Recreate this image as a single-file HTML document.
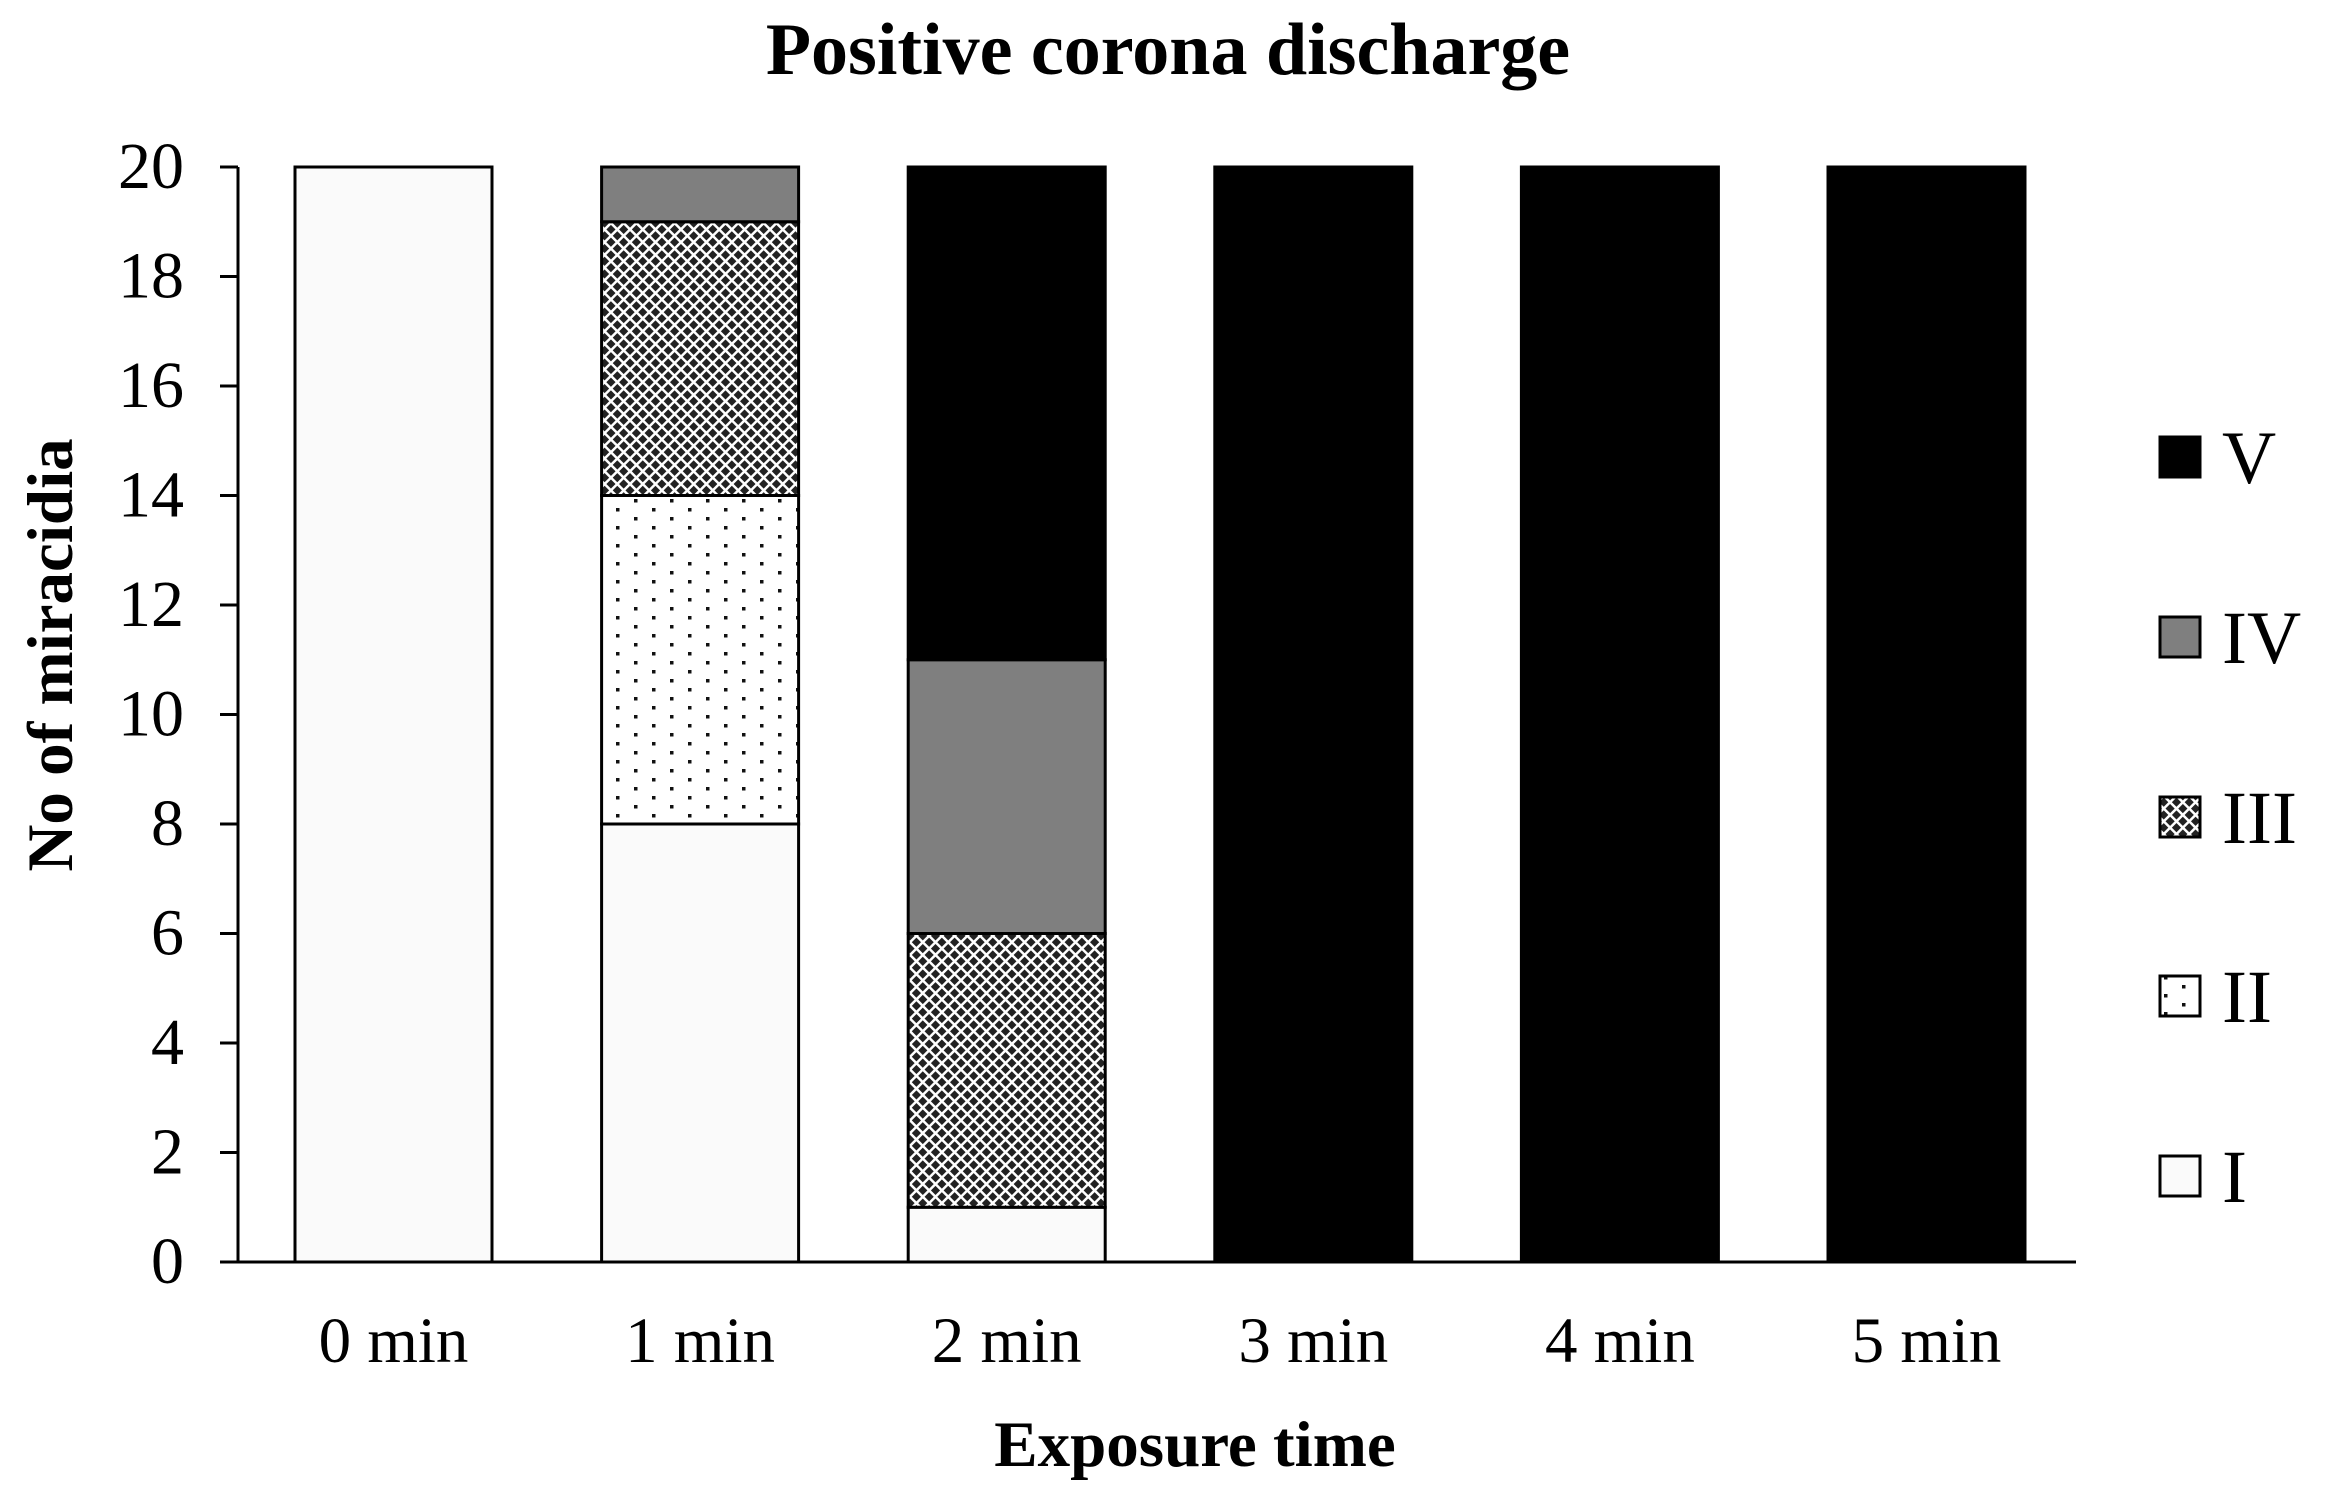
<!DOCTYPE html>
<html><head><meta charset="utf-8"><style>
html,body{margin:0;padding:0;background:#fff;}
svg{display:block;font-family:"Liberation Serif",serif;}
</style></head><body>
<svg id="chart" width="2334" height="1497" viewBox="0 0 2334 1497">
<defs>
<pattern id="dots" width="36" height="18" patternUnits="userSpaceOnUse">
<rect width="36" height="18" fill="#fff"/>
<rect x="4" y="4" width="3.5" height="3.5" fill="#111"/>
<rect x="22" y="13" width="3.5" height="3.5" fill="#111"/>
</pattern>
<pattern id="cross" width="9" height="9" patternUnits="userSpaceOnUse" patternTransform="rotate(45)">
<rect width="9" height="9" fill="#222"/>
<rect x="3.5" y="0" width="2.5" height="9" fill="#fff"/>
<rect x="0" y="3.5" width="9" height="2.5" fill="#fff"/>
</pattern>
</defs>
<text x="1168" y="74" text-anchor="middle" font-size="74" font-weight="bold">Positive corona discharge</text>
<g id="plot"></g>
<text x="1195" y="1466" text-anchor="middle" font-size="65" font-weight="bold">Exposure time</text>
<text transform="translate(72,655) rotate(-90)" text-anchor="middle" font-size="65" font-weight="bold">No of miracidia</text>
<g id="legend"></g>
</svg>
<script>
const categories = ["0 min","1 min","2 min","3 min","4 min","5 min"];
const seriesNames = ["I","II","III","IV","V"];
const seriesI = [20,8,1,0,0,0];
const seriesII = [0,6,0,0,0,0];
const seriesIII = [0,5,5,0,0,0];
const seriesIV = [0,1,5,0,0,0];
const seriesV = [0,0,9,20,20,20];
const yTicks = [0,2,4,6,8,10,12,14,16,18,20];

const NS = "http://www.w3.org/2000/svg";
const series = [seriesI, seriesII, seriesIII, seriesIV, seriesV];
const fills = ["#fafafa","url(#dots)","url(#cross)","#7f7f7f","#000"];
const x0 = 238, xEnd = 2076, yTop = 167, yBot = 1262, yMax = 20;
const bandStart = 295, bandStep = 306.6, barW = 197;
function yScale(v){ return yBot - (v / yMax) * (yBot - yTop); }
function xScale(i){ return bandStart + i * bandStep; }
function mk(tag, attrs, parent){
  const e = document.createElementNS(NS, tag);
  for (const k in attrs) e.setAttribute(k, attrs[k]);
  parent.appendChild(e);
  return e;
}
const plot = document.getElementById("plot");
categories.forEach((c, i) => {
  let cum = 0;
  series.forEach((s, si) => {
    const v = s[i];
    if (v > 0) {
      const r = mk("rect", {x: xScale(i), y: yScale(cum + v), width: barW, height: yScale(cum) - yScale(cum + v), fill: fills[si], stroke: "#000", "stroke-width": 3}, plot);
      
      
    }
    cum += v;
  });
  const t = mk("text", {x: xScale(i) + barW / 2, y: 1362, "text-anchor": "middle", "font-size": 65}, plot);
  t.textContent = c;
  
  
});
const ya = mk("line", {x1: x0, y1: yTop, x2: x0, y2: yBot, stroke: "#000", "stroke-width": 3}, plot);


const xa = mk("line", {x1: x0 - 18, y1: yBot, x2: xEnd, y2: yBot, stroke: "#000", "stroke-width": 3}, plot);


yTicks.forEach(v => {
  const tk = mk("line", {x1: x0 - 18, y1: yScale(v), x2: x0, y2: yScale(v), stroke: "#000", "stroke-width": 3}, plot);
  
  
  const t = mk("text", {x: 184, y: yScale(v) + 21, "text-anchor": "end", "font-size": 66}, plot);
  t.textContent = v;
  
  
});
const legend = document.getElementById("legend");
const legY = [1176, 996, 817, 637, 457];
seriesNames.forEach((n, si) => {
  const g = mk("g", {}, legend);
  
  
  mk("rect", {x: 2160, y: legY[si] - 20, width: 40, height: 40, fill: fills[si], stroke: "#000", "stroke-width": 3}, g);
  const t = mk("text", {x: 2222, y: legY[si] + 26, "font-size": 75}, g);
  t.textContent = n;
});
</script>
</body></html>
